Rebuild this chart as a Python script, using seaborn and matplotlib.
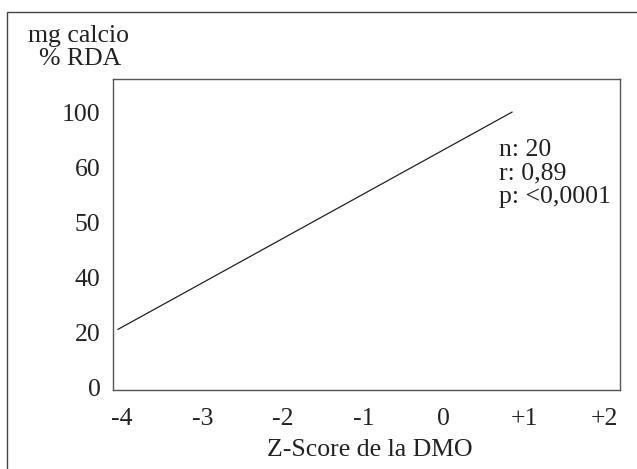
import numpy as np
import pandas as pd
import matplotlib
matplotlib.use("Agg")
import matplotlib.pyplot as plt
from matplotlib.patches import Rectangle
import seaborn as sns

# data
y_tick_labels = ["0", "20", "40", "50", "60", "100"]
x_ticks = [-4, -3, -2, -1, 0, 1, 2]
x_tick_labels = ["-4", "-3", "-2", "-1", "0", "+1", "+2"]
line_x = [-4.05, 0.85]
line_y = [21, 100]
stats_text = ["n: 20", "r: 0,89", "p: <0,0001"]

# y axis is drawn with evenly spaced slots, one per label
y_values = [float(v) for v in y_tick_labels]
slots = np.arange(len(y_tick_labels))
df = pd.DataFrame({"z": line_x, "slot": np.interp(line_y, y_values, slots)})

sns.set_style("white")
plt.rcParams["font.family"] = ["Liberation Serif", "DejaVu Serif"]
plt.rcParams["text.color"] = "#222222"
FS = 18.5

W, H = 637, 469
fig = plt.figure(figsize=(W / 100, H / 100), dpi=100)
ax = fig.add_axes([113 / W, (H - 390) / H, (620 - 113) / W, (390 - 79) / H])

sns.lineplot(data=df, x="z", y="slot", ax=ax, color="#222222", lw=0.9)

ax.set_xlim(-4.11, 2.19)
ax.set_ylim(-0.05, 5.6)
ax.set_xticks(x_ticks)
ax.set_xticklabels(x_tick_labels)
ax.set_yticks(slots)
ax.set_yticklabels(y_tick_labels)
ax.tick_params(axis="both", length=0, labelsize=FS, colors="#222222")
ax.tick_params(axis="y", pad=9)
ax.tick_params(axis="x", pad=13)
ax.set_xlabel("")
ax.set_ylabel("")
for s in ax.spines.values():
    s.set_color("#555555")
    s.set_linewidth(1.0)

# outer frame (runs off the right and bottom edges)
fig.patches.append(Rectangle((7 / W, -0.05), 1.0, 1 - 12 / H + 0.05,
                             transform=fig.transFigure, fill=False,
                             edgecolor="#444444", lw=1.0))

fig.text(78 / W, 1 - 36 / H, "mg calcio", ha="center", va="center", fontsize=FS)
fig.text(80 / W, 1 - 59 / H, "% RDA", ha="center", va="center", fontsize=FS)
fig.text(370 / W, 1 - 450 / H, "Z-Score de la DMO", ha="center", va="center", fontsize=FS)

for i, t in enumerate(stats_text):
    fig.text(499 / W, 1 - (150 + 23.5 * i) / H, t, ha="left", va="center", fontsize=FS)

fig.savefig("out.png", dpi=100)
